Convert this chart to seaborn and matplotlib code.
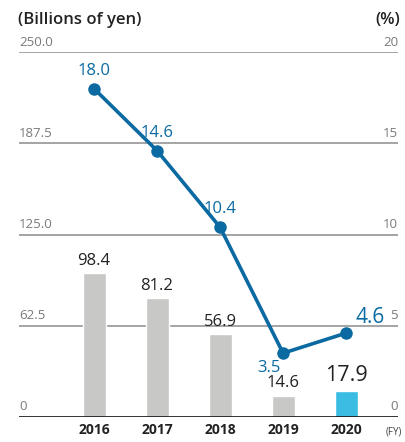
import pandas as pd
import matplotlib.pyplot as plt
import seaborn as sns
import numpy as np

# data
years = ['2016', '2017', '2018', '2019', '2020']
amount = [98.4, 81.2, 56.9, 14.6, 17.9]      # billions of yen (bars, left axis)
ratio = [18.0, 14.6, 10.4, 3.5, 4.6]         # % (line, right axis)
left_ticks = [0, 62.5, 125.0, 187.5, 250.0]
left_labels = ['0', '62.5', '125.0', '187.5', '250.0']
right_labels = ['0', '5', '10', '15', '20']

sns.set_theme(style='white')
plt.rcParams['font.family'] = ['Open Sans', 'DejaVu Sans']

df = pd.DataFrame({'year': years, 'amount': amount, 'ratio': ratio})

gray = '#c8c9c7'
cyan = '#3bbde3'
blue = '#0a6aa1'
grid = '#8c8c8c'
tick_col = '#7a7a7a'

fig = plt.figure(figsize=(4.05, 4.42), dpi=100)
ax = fig.add_axes([0.047, 0.0566, 0.936, 0.8254])

bar_colors = [gray] * (len(years) - 1) + [cyan]
sns.barplot(data=df, x='year', y='amount', hue='year', palette=bar_colors,
            width=0.365, legend=False, ax=ax, saturation=1)

ax.set_ylim(0, 250)
ax.set_xlim(-1.19, 4.825)

# gridlines
for t in left_ticks[1:]:
    ax.axhline(t, color=grid, lw=1.1, zorder=0)
ax.axhline(0, color='#111111', lw=1.2, zorder=3)

for s in ax.spines.values():
    s.set_visible(False)
ax.set_yticks([])
ax.set_xlabel('')
ax.set_ylabel('')
ax.tick_params(axis='x', length=0, pad=4)
for lbl in ax.get_xticklabels():
    lbl.set_fontweight('bold')
    lbl.set_fontsize(10)
    lbl.set_color('#222222')

# left axis labels, above gridlines
for t, s in zip(left_ticks, left_labels):
    ax.text(0.0, t + 2.5, s, transform=ax.get_yaxis_transform(),
            ha='left', va='bottom', fontsize=9.5, color=tick_col)

# bar value labels
for i, v in enumerate(amount):
    big = i == len(amount) - 1
    ax.text(i, v + 3, f'{v:.1f}', ha='center', va='bottom',
            fontsize=15.5 if big else 12, color='#222222')

ax2 = ax.twinx()
ax2.set_position(ax.get_position())
sns.lineplot(x=np.arange(len(years)), y=ratio, ax=ax2, color=blue, lw=2.6,
             marker='o', markersize=9, markeredgewidth=0)
ax2.set_ylim(0, 20)
ax2.set_yticks([])
ax2.set_ylabel('')
for s in ax2.spines.values():
    s.set_visible(False)

for t, s in zip(left_ticks, right_labels):
    ax.text(1.0, t + 2.5, s, transform=ax.get_yaxis_transform(),
            ha='right', va='bottom', fontsize=9.5, color=tick_col)

# line value labels
offsets = [(0, 10, 'center', 'bottom', 12), (0, 10, 'center', 'bottom', 12),
           (0, 10, 'center', 'bottom', 12), (-14, -7, 'center', 'top', 12),
           (9, 5, 'left', 'bottom', 15)]
for i, (v, (dx, dy, ha, va, fs)) in enumerate(zip(ratio, offsets)):
    ax2.annotate(f'{v:.1f}', (i, v), xytext=(dx * 0.72, dy * 0.72),
                 textcoords='offset points', ha=ha, va=va,
                 fontsize=fs, color=blue)

fig.text(18 / 405, 1 - 20 / 442, '(Billions of yen)', ha='left', va='center',
         fontsize=12, fontweight='semibold', color='#222222')
fig.text(400 / 405, 1 - 20 / 442, '(%)', ha='right', va='center',
         fontsize=12, fontweight='semibold', color='#222222')
fig.text(402 / 405, 1 - 432 / 442, '(FY)', ha='right', va='center',
         fontsize=7, color='#444444')

plt.savefig('out.png', dpi=100)
plt.close()
